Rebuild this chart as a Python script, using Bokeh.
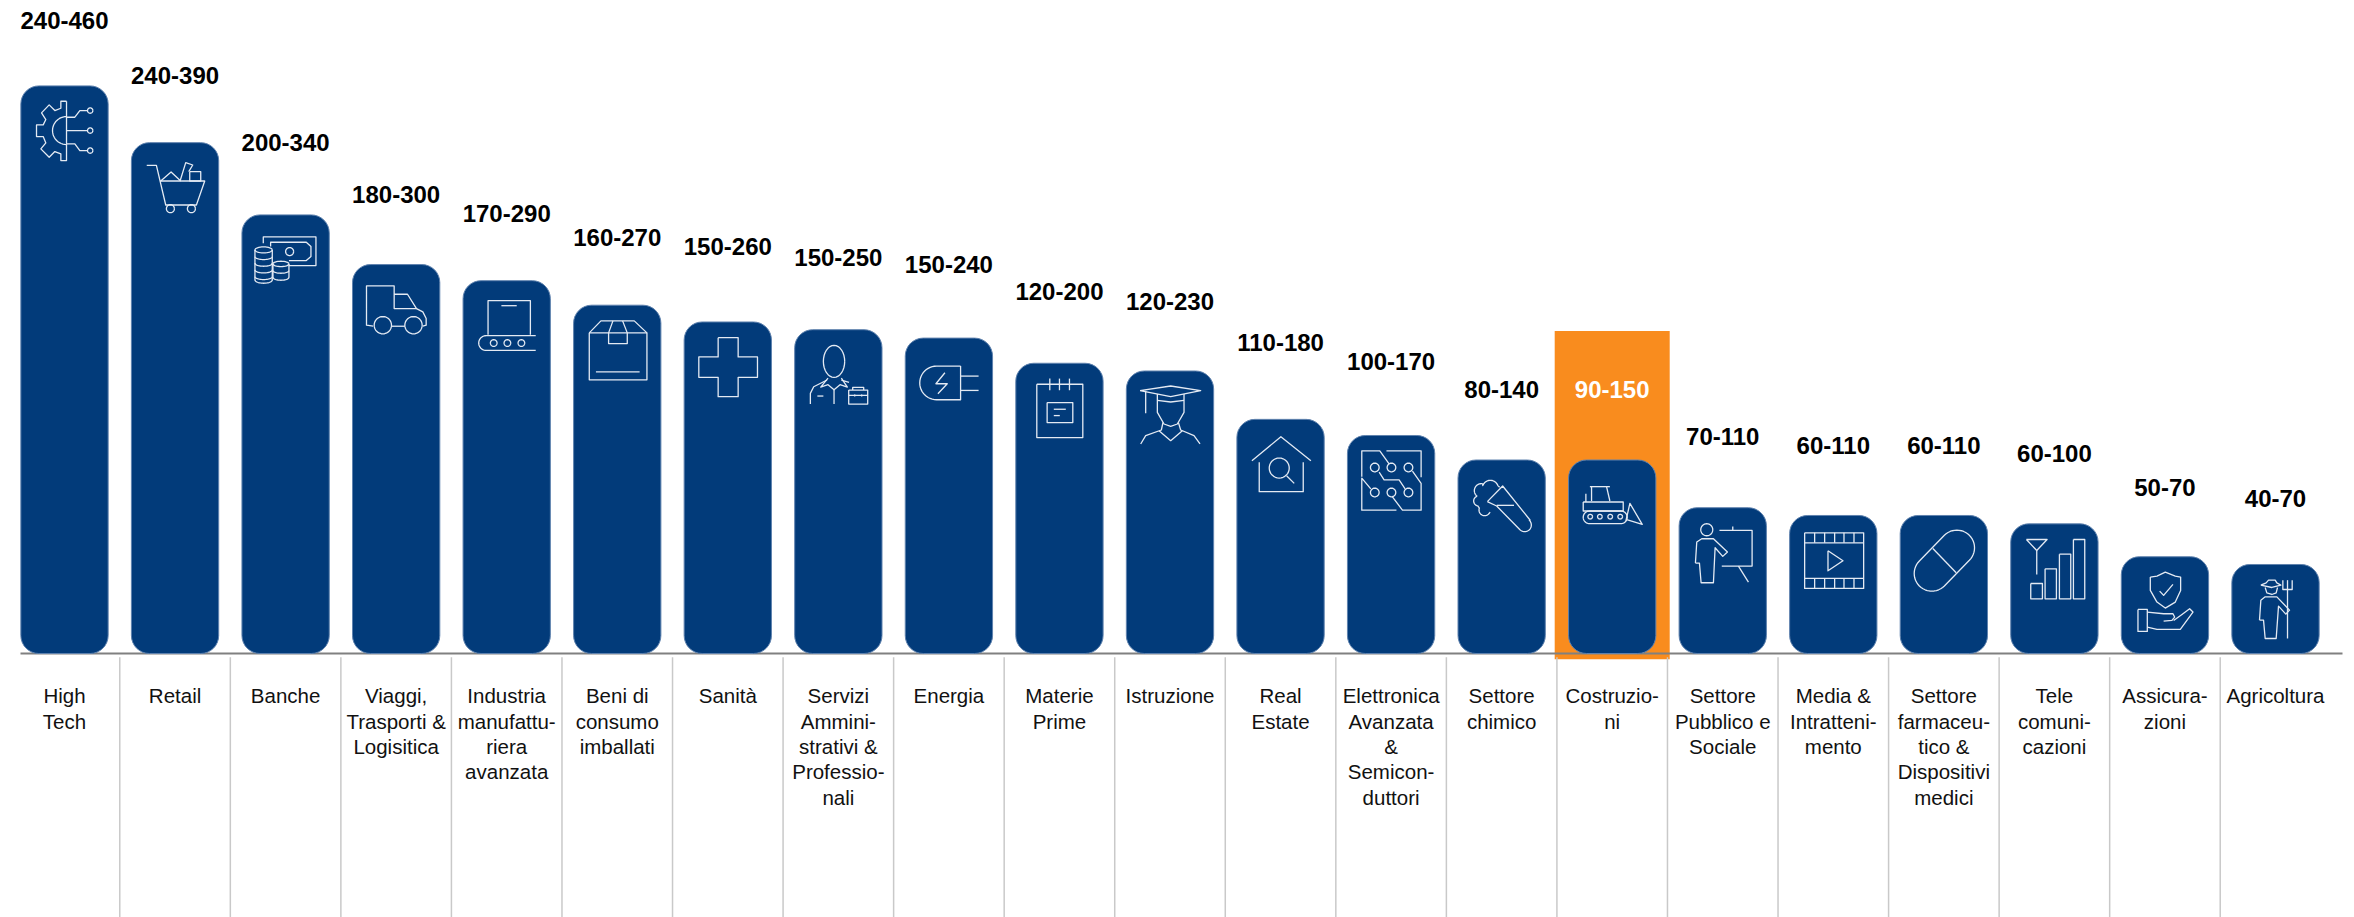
from math import cos, sin, pi
from bokeh.plotting import figure
from bokeh.models import Range1d, ColumnDataSource
from bokeh.core.properties import value
from bokeh.embed import file_html
from bokeh.resources import INLINE

categories = ["High\nTech", "Retail", "Banche", "Viaggi,\nTrasporti &\nLogisitica",
              "Industria\nmanufattu-\nriera\navanzata", "Beni di\nconsumo\nimballati", "Sanità",
              "Servizi\nAmmini-\nstrativi &\nProfessio-\nnali", "Energia", "Materie\nPrime", "Istruzione",
              "Real\nEstate", "Elettronica\nAvanzata\n&\nSemicon-\nduttori", "Settore\nchimico",
              "Costruzio-\nni", "Settore\nPubblico e\nSociale", "Media &\nIntratteni-\nmento",
              "Settore\nfarmaceu-\ntico &\nDispositivi\nmedici", "Tele\ncomuni-\ncazioni",
              "Assicura-\nzioni", "Agricoltura"]
range_labels = ["240-460", "240-390", "200-340", "180-300", "170-290", "160-270", "150-260",
                "150-250", "150-240", "120-200", "120-230", "110-180", "100-170", "80-140",
                "90-150", "70-110", "60-110", "60-110", "60-100", "50-70", "40-70"]
bar_values = [440, 396, 340, 301.5, 289, 270, 257, 251, 244.5, 225, 219, 181.5, 169, 150, 150,
              113, 107, 107, 100.5, 75, 69]
label_heights = [491, 448, 396, 356, 341, 322.5, 315.5, 307, 301.5, 280.5, 273, 241, 226, 205, 205,
                 168, 161, 161, 155, 129, 120]
highlight = 14

NAVY, ORANGE, ICON = "#023B7A", "#F98C1E", "#E4EAF3"
W, H, BASE, PITCH, BAR_W, PX = 2354, 917, 653, 110.55, 87.3, 1.29
FONT = value("Liberation Sans")
n = len(categories)
idx = list(range(n))

x0 = -64 / PITCH
p = figure(width=W, height=H, output_backend="svg", toolbar_location=None, min_border=0,
           x_range=Range1d(x0, x0 + W / PITCH), y_range=Range1d(-(H - BASE) / PX, BASE / PX),
           x_axis_type=None, y_axis_type=None, outline_line_color=None)
p.grid.visible = False
p.background_fill_color = "white"

# highlight band
p.quad(left=[highlight - 57.5 / PITCH], right=[highlight + 57.5 / PITCH], bottom=[-4.5], top=[250],
       fill_color=ORANGE, line_color=None)
# separators
p.segment(x0=[i + .5 for i in idx[:-1]], x1=[i + .5 for i in idx[:-1]], y0=[-3] * (n - 1),
          y1=[-(H - BASE) / PX] * (n - 1), line_color="#C9C9C9", line_width=1.5)
# baseline
p.segment(x0=[x0 + 20 / PITCH], x1=[x0 + 2342 / PITCH], y0=[0], y1=[0], line_color="#808080", line_width=2)
# bars
p.vbar(x=idx, top=bar_values, bottom=0, width=BAR_W / PITCH, fill_color=NAVY,
       line_color="#5F82AE", line_width=1, border_radius=18)


def arc(cx, cy, r, a0, a1, ry=None, k=24):
    ry = r if ry is None else ry
    return [(cx + r * cos(pi * (a0 + (a1 - a0) * j / k) / 180),
             cy + ry * sin(pi * (a0 + (a1 - a0) * j / k) / 180)) for j in range(k + 1)]


def circle(cx, cy, r, ry=None):
    return arc(cx, cy, r, 0, 360, ry, 32)


def rect(l, t, r, b):
    return [(l, t), (r, t), (r, b), (l, b), (l, t)]


coins = [circle(65, 105, 26, 9), [(39, 105), (39, 195)] + arc(65, 195, 26, 180, 0, 10), [(91, 105), (91, 195)]]
for yy in (125, 145, 165, 185):
    coins.append(arc(65, yy, 26, 180, 0, 9))
coins += [circle(117, 147, 24, 8), [(93, 147), (93, 187)] + arc(117, 187, 24, 180, 0, 9), [(141, 147), (141, 187)]]
coins += [arc(117, 167, 24, 180, 0, 8)]

icons = {
    0: [[(137, 46), (120, 46), (120, 67), (102, 74), (85, 57), (62, 81), (75, 101), (67, 117), (47, 117), (47, 152),
         (67, 152), (75, 171), (60, 189), (85, 214), (102, 197), (120, 204), (120, 224), (137, 224), (137, 46)],
        arc(137, 134, 42, 90, 270), [(137, 94), (162, 94), (177, 74), (200, 74)], circle(208, 74, 8),
        [(137, 134), (200, 134)], circle(208, 134, 8), [(137, 174), (162, 174), (177, 194), (200, 194)], circle(208, 194, 8)],
    1: [[(46, 68), (75, 68), (103, 187), (195, 187), (220, 115), (86, 115)], circle(117, 198, 12), circle(180, 198, 12),
        [(88, 115), (119, 88), (148, 115)], [(146, 115), (163, 60), (184, 67), (172, 87)], rect(175, 87, 208, 115)],
    2: [[(64, 85), (64, 66), (222, 66), (222, 152), (141, 152)],
        [(86, 95), (86, 82), (193, 82), (207, 95), (207, 125), (193, 137), (141, 137)], circle(143, 110, 12)] + coins,
    3: [[(62, 185), (42, 182), (42, 64), (125, 64), (125, 132), (192, 132), (165, 89), (125, 89)],
        [(192, 132), (211, 142), (221, 162), (221, 182), (211, 185)], circle(91, 182, 26), circle(183, 182, 26),
        [(118, 185), (157, 185)]],
    4: [[(75, 162), (75, 60), (202, 60), (202, 162)], [(115, 75), (161, 75)],
        [(218, 165), (69, 165)] + arc(69, 187, 22, 270, 90) + [(218, 209)],
        circle(92, 187, 10), circle(133, 187, 10), circle(175, 187, 10)],
    5: [rect(47, 83, 220, 224), [(47, 83), (82, 47), (182, 47), (220, 83)],
        [(118, 47), (105, 83), (105, 115), (161, 115), (161, 83), (147, 47)], [(67, 200), (198, 200)]],
    6: [[(102, 47), (162, 47), (162, 105), (220, 105), (220, 166), (162, 166), (162, 224), (102, 224), (102, 166),
         (44, 166), (44, 105), (102, 105), (102, 47)]],
    7: [circle(118, 95, 32, 48), [(47, 223), (47, 191), (57, 171), (97, 151)], [(140, 151), (163, 158)],
        [(100, 145), (78, 172), (100, 165), (118, 180), (136, 165), (158, 172), (140, 145)], [(118, 180), (118, 223)],
        [(68, 199), (86, 199)], rect(162, 181, 219, 223), [(174, 181), (174, 173), (207, 173), (207, 181)],
        [(162, 197), (219, 197)], [(180, 194), (180, 200)], [(201, 194), (201, 200)]],
    8: [[(166, 84), (94, 84)] + arc(94, 134.5, 50.5, 270, 90) + [(166, 185), (166, 84)],
        [(166, 114), (220, 114)], [(166, 157), (220, 157)], [(119, 104), (92, 137), (126, 137), (98, 167)]],
    9: [rect(63, 63, 201, 223), [(102, 46), (102, 81)], [(131, 46), (131, 81)], [(161, 46), (161, 81)],
        rect(94, 118, 171, 178), [(114, 138), (150, 138)], [(114, 157), (132, 157)]],
    10: [[(41, 59), (133, 45), (223, 59), (133, 77), (41, 59)], [(58, 59), (58, 127)],
         [(93, 69), (93, 124), (113, 159), (133, 166), (153, 159), (173, 124), (173, 69)],
         [(93, 88), (133, 93), (173, 88)], [(110, 154), (105, 177), (58, 194), (43, 219)],
         [(98, 179), (133, 209), (168, 179)], [(156, 154), (163, 177), (203, 194), (221, 219)]],
    11: [[(45, 124), (132, 52), (222, 124)], [(67, 129), (67, 217), (199, 217), (199, 129)], circle(127, 146, 30),
         [(149, 169), (172, 192)]],
    12: [[(43, 124), (43, 46), (97, 46), (125, 85)], [(117, 46), (221, 46), (221, 125)],
         [(195, 107), (221, 144), (221, 224), (165, 224), (135, 184)], [(70, 160), (43, 128), (43, 224), (147, 224)],
         [(95, 110), (110, 133), (155, 133), (173, 160)], circle(82, 96, 13), circle(132, 96, 13), circle(183, 96, 13),
         circle(82, 171, 13), circle(132, 171, 13), circle(183, 171, 13)],
    13: [[(88, 125), (134, 78), (216, 180)] + arc(200, 195, 20, -45, 135) + [(116, 138), (88, 125)], [(116, 136), (168, 136)],
         [(125, 82)] + arc(97, 85, 24, 340, 200) + arc(70, 92, 21, 280, 130) + arc(62, 123, 15, 240, 100) +
         arc(80, 150, 17, 200, 20)],
    14: [[(64, 80), (124, 80)], [(69, 80), (69, 123)], [(114, 80), (124, 123)], rect(44, 126, 164, 153), [(52, 101), (52, 126)],
         [(63, 153), (157, 153)] + arc(157, 172, 19, -90, 90) + [(63, 191)] + arc(63, 172, 19, 90, 270),
         circle(65, 170, 7), circle(94, 170, 7), circle(125, 170, 7), circle(155, 170, 7),
         [(172, 183), (184, 130), (221, 193), (172, 178)]],
    15: [circle(83, 66, 18), [(49, 166), (53, 103), (68, 93), (103, 93), (145, 133), (131, 146), (108, 120), (103, 225),
                              (66, 225), (61, 166), (49, 166)],
         [(121, 68), (219, 68), (219, 175), (128, 175)], [(161, 56), (161, 68)], [(178, 175), (208, 223)]],
    16: [rect(45, 52, 222, 219), [(45, 82), (222, 82)], [(45, 189), (222, 189)]] +
        [[(xx, 52), (xx, 82)] for xx in (75, 105, 135, 163, 193)] + [[(xx, 189), (xx, 219)] for xx in (75, 105, 135, 163, 193)] +
        [[(115, 106), (160, 136), (115, 166), (115, 106)]],
    17: [arc(170, 97, 53, -135, 45) + arc(95, 174, 53, 45, 225) + [(132.5, 59.5)], [(98, 99), (168, 172)]],
    18: [[(47, 47), (109, 47), (78, 80), (47, 47)], [(78, 80), (78, 152)], rect(60, 179, 95, 225), rect(103, 135, 137, 225),
         rect(146, 91, 180, 225), rect(188, 47, 222, 225)],
    19: [[(87, 61), (87, 101), (107, 136), (132, 154), (162, 136), (178, 101), (178, 61), (162, 58), (132, 46), (107, 58), (87, 61)],
         [(115, 103), (127, 116), (155, 83)], rect(50, 158, 78, 224),
         [(78, 166), (127, 171), (155, 171), (160, 181), (152, 191), (127, 193)],
         [(78, 211), (107, 218), (177, 218), (215, 166), (205, 156), (182, 173), (157, 191)]],
    20: [[(87, 62), (103, 55), (110, 47), (130, 47), (135, 55), (147, 62), (120, 69), (87, 62)],
         [(100, 69), (105, 85), (120, 90), (133, 85), (137, 69)],
         [(83, 167), (87, 107), (100, 97), (135, 97), (173, 137), (162, 149), (140, 125), (133, 222), (100, 222), (95, 167), (83, 167)],
         [(153, 47), (153, 75), (181, 75), (181, 47)], [(167, 47), (167, 222)]],
}

xs, ys = [], []
for i, polys in icons.items():
    left = i - (BAR_W / 2) / PITCH
    for poly in polys:
        xs.append([left + (u / 3) / PITCH for u, _ in poly])
        ys.append([bar_values[i] - (v / 3) / PX for _, v in poly])
p.multi_line(xs, ys, line_color=ICON, line_width=1.3, line_join="round")

# range labels
colors = ["white" if i == highlight else "black" for i in idx]
src = ColumnDataSource(dict(x=idx, y=label_heights, t=range_labels, c=colors))
p.text(x="x", y="y", text="t", text_color="c", source=src, text_align="center", text_baseline="middle",
       text_font=FONT, text_font_style="bold", text_font_size="24px")
# category labels
p.text(x=idx, y=[-24] * n, text=categories, text_color="#111111", text_align="center", text_baseline="top",
       text_font=FONT, text_font_size="20.5px", text_line_height=1.1)

open("out.html", "w").write(file_html(p, INLINE))
